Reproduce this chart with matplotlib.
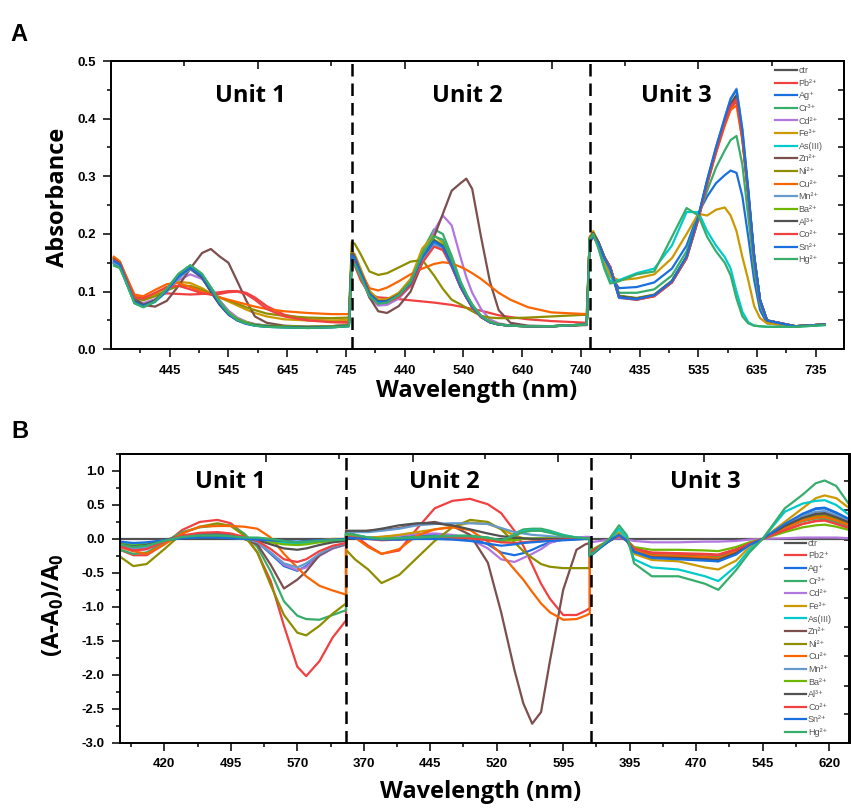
import numpy as np
import matplotlib
matplotlib.use('Agg')
import matplotlib.pyplot as plt
from matplotlib.ticker import MultipleLocator, FormatStrFormatter

# ions in legend order and Origin-like colours
ions = ['ctr', 'Pb', 'Ag', 'Cr', 'Cd', 'Fe', 'As', 'Zn', 'Ni', 'Cu', 'Mn', 'Ba', 'Al', 'Co', 'Sn', 'Hg']
colors = ['#515151', '#F14040', '#1A6FDF', '#37AD6B', '#B177DE', '#CC9900', '#00CBCC', '#7D4E4E',
          '#8E8E00', '#FB6501', '#6699CC', '#6FB802', '#515151', '#F14040', '#1A6FDF', '#37AD6B']
labels_a = ['ctr', 'Pb²⁺', 'Ag⁺', 'Cr³⁺', 'Cd²⁺', 'Fe³⁺', 'As(III)', 'Zn²⁺', 'Ni²⁺', 'Cu²⁺',
            'Mn²⁺', 'Ba²⁺', 'Al³⁺', 'Co²⁺', 'Sn²⁺', 'Hg²⁺']
labels_b = ['ctr', 'Pb2⁺', 'Ag⁺', 'Cr³⁺', 'Cd²⁺', 'Fe³⁺', 'As(III)', 'Zn²⁺', 'Ni²⁺', 'Cu²⁺',
            'Mn²⁺', 'Ba²⁺', 'Al³⁺', 'Co²⁺', 'Sn²⁺', 'Hg²⁺']

# ---- panel A : absorbance, three units (wavelength in nm) ----
wl_a1 = [350, 360, 370, 385, 400, 420, 440, 460, 480, 500, 515, 530, 545, 560, 575, 590, 610, 640, 680, 720, 750]
a1 = {
    'ctr': [.158, .150, .125, .084, .077, .085, .104, .128, .143, .125, .100, .077, .060, .050, .045, .042, .040, .039, .038, .039, .041],
    'Pb':  [.160, .152, .128, .093, .090, .095, .097, .096, .095, .096, .097, .099, .101, .101, .098, .090, .075, .060, .052, .049, .048],
    'Ag':  [.152, .146, .120, .082, .076, .083, .100, .124, .139, .124, .101, .079, .062, .051, .045, .042, .040, .039, .038, .039, .041],
    'Cr':  [.150, .145, .118, .080, .074, .084, .105, .130, .145, .130, .108, .085, .066, .054, .047, .043, .041, .040, .039, .040, .042],
    'Cd':  [.150, .144, .120, .086, .080, .087, .102, .120, .130, .122, .104, .084, .067, .055, .048, .044, .041, .040, .039, .040, .042],
    'Fe':  [.160, .152, .128, .092, .087, .095, .108, .117, .115, .106, .097, .090, .083, .076, .069, .063, .057, .052, .050, .050, .051],
    'As':  [.148, .142, .118, .080, .073, .082, .103, .128, .142, .128, .104, .080, .062, .051, .045, .041, .039, .038, .037, .038, .040],
    'Zn':  [.150, .144, .122, .090, .077, .074, .084, .110, .140, .167, .174, .161, .150, .118, .085, .057, .046, .041, .039, .040, .042],
    'Ni':  [.158, .150, .126, .090, .085, .092, .102, .110, .110, .103, .096, .090, .085, .079, .073, .068, .062, .058, .055, .054, .055],
    'Cu':  [.160, .152, .128, .095, .092, .103, .113, .115, .108, .100, .095, .090, .086, .082, .078, .074, .070, .066, .063, .061, .061],
    'Mn':  [.150, .145, .120, .081, .075, .083, .101, .124, .139, .125, .103, .080, .062, .051, .046, .042, .040, .039, .038, .039, .041],
    'Ba':  [.155, .148, .122, .083, .076, .084, .103, .127, .142, .128, .105, .082, .064, .053, .047, .043, .041, .040, .039, .040, .042],
    'Al':  [.156, .149, .123, .084, .077, .085, .104, .127, .141, .124, .100, .078, .061, .051, .045, .042, .040, .039, .038, .039, .041],
    'Co':  [.155, .148, .125, .090, .088, .098, .108, .110, .104, .097, .095, .096, .099, .100, .096, .086, .070, .057, .050, .047, .046],
    'Sn':  [.153, .147, .121, .082, .075, .083, .102, .126, .142, .127, .103, .079, .061, .050, .044, .041, .039, .038, .037, .038, .040],
    'Hg':  [.145, .141, .118, .080, .073, .083, .105, .131, .146, .131, .107, .082, .063, .051, .045, .041, .039, .038, .037, .038, .040],
}

wl_a2 = [350, 355, 365, 380, 395, 410, 430, 450, 470, 490, 505, 520, 535, 545, 555, 570, 585, 600, 620, 650, 690, 750]
a2 = {
    'ctr': [.165, .160, .135, .098, .083, .084, .095, .115, .160, .188, .178, .145, .108, .090, .073, .056, .047, .043, .041, .040, .040, .043],
    'Pb':  [.152, .145, .120, .095, .090, .089, .087, .085, .083, .081, .079, .077, .074, .072, .070, .067, .063, .059, .056, .052, .049, .046],
    'Ag':  [.160, .155, .130, .095, .081, .082, .093, .114, .158, .185, .177, .146, .110, .091, .074, .057, .047, .043, .041, .040, .040, .043],
    'Cr':  [.158, .153, .130, .094, .080, .082, .094, .118, .170, .208, .200, .162, .118, .096, .078, .058, .048, .043, .041, .040, .040, .043],
    'Cd':  [.155, .150, .128, .090, .076, .077, .088, .110, .150, .205, .232, .215, .160, .125, .098, .070, .052, .045, .041, .040, .040, .043],
    'Fe':  [.170, .165, .140, .102, .086, .087, .098, .122, .175, .198, .185, .150, .112, .092, .075, .057, .048, .044, .041, .040, .040, .043],
    'As':  [.160, .155, .131, .095, .081, .082, .093, .113, .157, .186, .178, .147, .110, .091, .074, .057, .047, .043, .041, .040, .040, .043],
    'Zn':  [.170, .160, .130, .090, .066, .063, .075, .100, .150, .195, .235, .275, .288, .296, .278, .195, .118, .068, .046, .041, .040, .042],
    'Ni':  [.186, .183, .165, .135, .129, .132, .142, .152, .155, .128, .105, .086, .078, .072, .066, .058, .055, .054, .054, .055, .057, .060],
    'Cu':  [.160, .155, .135, .106, .102, .107, .118, .130, .140, .148, .151, .149, .143, .138, .132, .122, .110, .098, .086, .073, .064, .061],
    'Mn':  [.158, .153, .129, .094, .080, .081, .092, .112, .155, .182, .175, .145, .109, .090, .073, .056, .047, .043, .041, .040, .040, .043],
    'Ba':  [.162, .157, .132, .096, .082, .083, .094, .115, .160, .190, .181, .148, .111, .092, .075, .057, .048, .043, .041, .040, .040, .043],
    'Al':  [.165, .159, .134, .097, .083, .084, .095, .116, .161, .189, .179, .146, .109, .090, .073, .056, .047, .043, .041, .040, .040, .043],
    'Co':  [.155, .150, .127, .093, .080, .081, .091, .110, .150, .178, .172, .143, .108, .090, .073, .056, .047, .043, .041, .040, .040, .043],
    'Sn':  [.163, .158, .133, .096, .082, .083, .094, .114, .159, .187, .178, .146, .110, .091, .074, .057, .047, .043, .041, .040, .040, .043],
    'Hg':  [.150, .147, .126, .092, .079, .081, .094, .117, .165, .196, .190, .156, .116, .095, .077, .058, .048, .043, .041, .040, .040, .043],
}

wl_a3 = [350, 356, 365, 375, 385, 400, 430, 460, 490, 515, 535, 550, 565, 580, 590, 600, 610, 620, 630, 640, 652, 700, 750]
a3 = {
    'ctr': [.190, .200, .185, .160, .142, .092, .088, .094, .118, .160, .228, .290, .345, .395, .425, .440, .370, .270, .160, .085, .050, .040, .043],
    'Pb':  [.185, .195, .182, .158, .143, .090, .086, .092, .116, .158, .226, .287, .342, .390, .418, .430, .365, .268, .160, .085, .050, .040, .043],
    'Ag':  [.190, .198, .182, .155, .128, .106, .108, .116, .140, .180, .236, .265, .288, .302, .310, .306, .265, .195, .120, .068, .045, .040, .043],
    'Cr':  [.195, .200, .180, .150, .130, .098, .098, .104, .128, .170, .232, .275, .315, .345, .363, .370, .320, .230, .140, .078, .048, .040, .043],
    'Cd':  [.188, .198, .184, .159, .141, .091, .087, .093, .117, .159, .227, .289, .344, .394, .424, .439, .369, .270, .160, .085, .050, .040, .043],
    'Fe':  [.195, .205, .185, .150, .126, .120, .123, .130, .158, .200, .235, .232, .242, .246, .232, .205, .160, .120, .075, .054, .045, .040, .043],
    'As':  [.190, .200, .176, .142, .118, .120, .132, .140, .180, .238, .238, .205, .180, .160, .140, .100, .065, .047, .041, .040, .039, .039, .042],
    'Zn':  [.192, .202, .186, .160, .142, .092, .088, .094, .118, .160, .229, .291, .346, .396, .426, .441, .371, .271, .161, .085, .050, .040, .043],
    'Ni':  [.190, .200, .184, .160, .141, .093, .089, .095, .119, .161, .229, .290, .344, .394, .424, .438, .369, .270, .160, .085, .050, .040, .043],
    'Cu':  [.188, .197, .182, .158, .142, .091, .087, .093, .116, .158, .225, .286, .340, .388, .415, .423, .362, .266, .158, .084, .050, .040, .043],
    'Mn':  [.186, .196, .183, .158, .140, .089, .086, .093, .117, .160, .230, .293, .350, .402, .435, .452, .382, .277, .164, .086, .050, .040, .043],
    'Ba':  [.190, .200, .185, .160, .142, .092, .088, .094, .118, .160, .228, .290, .345, .395, .425, .440, .370, .270, .160, .085, .050, .040, .043],
    'Al':  [.191, .201, .186, .160, .142, .092, .088, .094, .118, .160, .228, .290, .345, .395, .425, .440, .370, .270, .160, .085, .050, .040, .043],
    'Co':  [.187, .197, .183, .159, .143, .090, .086, .092, .116, .158, .226, .288, .343, .392, .421, .434, .367, .269, .160, .085, .050, .040, .043],
    'Sn':  [.186, .196, .183, .158, .140, .090, .087, .094, .118, .161, .231, .294, .350, .401, .434, .450, .380, .276, .163, .086, .050, .040, .043],
    'Hg':  [.190, .200, .175, .140, .114, .118, .130, .135, .195, .245, .232, .195, .170, .150, .128, .088, .057, .045, .041, .040, .039, .039, .042],
}

# ---- panel B : (A-A0)/A0 ----
wl_b1 = [370, 385, 400, 420, 440, 460, 480, 495, 510, 525, 540, 555, 570, 580, 595, 610, 625]
b1 = {
    'ctr': [0.0] * 17,
    'Pb':  [-.16, -.24, -.24, -.08, .13, .25, .28, .23, .07, -.20, -.62, -1.28, -1.88, -2.02, -1.80, -1.45, -1.20],
    'Ag':  [-.10, -.16, -.14, -.03, .04, .07, .07, .05, .01, -.05, -.22, -.40, -.47, -.40, -.24, -.14, -.08],
    'Cr':  [-.16, -.22, -.20, -.05, .10, .17, .20, .20, .08, -.12, -.48, -.92, -1.13, -1.18, -1.19, -1.12, -1.05],
    'Cd':  [-.12, -.18, -.15, -.03, .04, .06, .06, .04, .00, -.06, -.20, -.38, -.46, -.42, -.25, -.14, -.08],
    'Fe':  [-.05, -.08, -.06, -.02, .02, .03, .03, .02, .00, -.01, -.02, -.04, -.05, -.04, -.02, .00, .00],
    'As':  [-.06, -.09, -.07, -.02, .02, .04, .04, .03, .01, .00, -.03, -.06, -.07, -.06, -.04, -.02, -.01],
    'Zn':  [-.10, -.12, -.10, -.02, .05, .07, .08, .05, .00, -.08, -.38, -.73, -.60, -.48, -.24, -.13, -.08],
    'Ni':  [-.26, -.40, -.37, -.15, .08, .18, .23, .19, .05, -.20, -.68, -1.12, -1.38, -1.42, -1.28, -1.10, -.95],
    'Cu':  [-.12, -.18, -.22, -.08, .08, .18, .19, .19, .18, .15, .02, -.22, -.42, -.55, -.69, -.76, -.82],
    'Mn':  [-.09, -.14, -.12, -.03, .04, .06, .06, .04, .01, -.05, -.20, -.36, -.42, -.36, -.22, -.12, -.07],
    'Ba':  [-.07, -.10, -.08, -.02, .02, .03, .03, .02, .00, -.02, -.05, -.08, -.09, -.08, -.05, -.03, -.02],
    'Al':  [-.08, -.11, -.09, -.02, .03, .05, .05, .04, .01, -.02, -.08, -.14, -.16, -.14, -.09, -.05, -.03],
    'Co':  [-.11, -.17, -.15, -.04, .05, .09, .10, .08, .03, -.03, -.15, -.30, -.34, -.30, -.18, -.10, -.06],
    'Sn':  [-.04, -.06, -.05, -.02, .01, .02, .02, .01, .00, -.01, -.02, -.03, -.04, -.03, -.02, -.01, .00],
    'Hg':  [-.08, -.12, -.10, -.03, .03, .05, .05, .04, .02, .02, .00, -.03, -.05, -.04, -.03, -.02, -.01],
}

wl_b2 = [350, 360, 375, 390, 410, 430, 450, 470, 490, 510, 525, 540, 550, 560, 570, 580, 595, 610, 620, 625]
b2 = {
    'ctr': [0.0] * 20,
    'Pb':  [.13, .05, -.10, -.22, -.17, .15, .45, .56, .59, .51, .38, .12, -.10, -.38, -.66, -.88, -1.12, -1.12, -1.06, -1.02],
    'Ag':  [.06, .05, .02, .00, .02, .05, .06, .05, .02, -.08, -.20, -.24, -.21, -.16, -.10, -.05, -.01, .00, .00, .00],
    'Cr':  [.08, .06, .02, .00, .01, .03, .04, .05, .05, .02, -.05, .08, .14, .15, .15, .12, .06, .02, .01, .00],
    'Cd':  [.05, .04, .02, .03, .05, .07, .08, .06, .00, -.14, -.30, -.34, -.28, -.22, -.15, -.06, .00, .02, .03, .03],
    'Fe':  [.05, .04, .02, .03, .06, .10, .14, .18, .24, .22, .15, .05, .01, -.01, -.01, .00, .00, .00, .00, .00],
    'As':  [.07, .05, .02, .00, .01, .02, .03, .04, .04, .01, -.03, .06, .11, .13, .12, .10, .05, .02, .01, .00],
    'Zn':  [.08, .10, .12, .13, .16, .22, .25, .19, .06, -.35, -1.08, -1.93, -2.42, -2.72, -2.55, -1.80, -.75, -.16, -.08, -.06],
    'Ni':  [-.16, -.30, -.45, -.65, -.53, -.28, -.03, .17, .28, .25, .14, -.05, -.18, -.28, -.37, -.41, -.43, -.43, -.43, -.43],
    'Cu':  [.10, .02, -.12, -.22, -.15, .05, .14, .17, .13, -.04, -.22, -.45, -.60, -.78, -.95, -1.08, -1.19, -1.18, -1.13, -1.10],
    'Mn':  [.10, .10, .10, .12, .15, .20, .22, .23, .23, .22, .16, .10, .08, .06, .05, .04, .02, .01, .00, .00],
    'Ba':  [.04, .03, .01, .00, .01, .02, .02, .02, .01, -.01, -.03, -.02, .00, .01, .01, .01, .00, .00, .00, .00],
    'Al':  [.12, .12, .12, .15, .20, .23, .23, .20, .14, .08, .04, .02, .01, .00, .00, .00, .00, .00, .00, .00],
    'Co':  [.03, .02, .00, -.02, -.01, .01, .02, .02, .01, -.02, -.05, -.06, -.05, -.04, -.03, -.02, -.01, .00, .00, .00],
    'Sn':  [.02, .01, .00, -.01, -.01, .00, .00, -.01, -.03, -.07, -.10, -.08, -.06, -.05, -.04, -.03, -.02, -.01, .00, .00],
    'Hg':  [.08, .06, .02, .00, .01, .02, .03, .04, .04, .02, -.02, .05, .10, .12, .12, .09, .04, .02, .01, .00],
}

wl_b3 = [350, 362, 372, 383, 392, 400, 420, 450, 480, 495, 515, 530, 545, 570, 590, 605, 615, 628, 643]
b3 = {
    'ctr': [0.0] * 19,
    'Pb':  [-.20, -.10, -.02, .05, -.02, -.14, -.20, -.21, -.22, -.23, -.15, -.07, .00, .12, .22, .27, .28, .23, .16],
    'Ag':  [-.24, -.12, -.03, .06, -.03, -.18, -.25, -.27, -.30, -.32, -.22, -.08, .00, .20, .36, .44, .45, .38, .28],
    'Cr':  [-.22, -.11, -.02, .08, -.02, -.16, -.24, -.25, -.26, -.27, -.18, -.07, .00, .16, .26, .30, .30, .25, .18],
    'Cd':  [-.05, -.03, -.01, .01, -.01, -.03, -.05, -.05, -.04, -.04, -.03, -.01, .00, .01, .02, .02, .02, .02, .01],
    'Fe':  [-.25, -.12, -.02, .10, -.03, -.22, -.31, -.33, -.42, -.45, -.32, -.12, .00, .25, .45, .60, .64, .60, .45],
    'As':  [-.26, -.12, -.02, .15, .00, -.30, -.42, -.45, -.55, -.62, -.40, -.16, .00, .40, .52, .56, .57, .50, .35],
    'Zn':  [-.24, -.12, -.03, .05, -.03, -.18, -.26, -.27, -.28, -.30, -.20, -.08, .00, .18, .30, .35, .36, .30, .22],
    'Ni':  [-.22, -.11, -.02, .05, -.02, -.16, -.24, -.25, -.26, -.28, -.19, -.07, .00, .17, .28, .33, .34, .29, .21],
    'Cu':  [-.23, -.11, -.03, .05, -.02, -.17, -.25, -.26, -.27, -.29, -.19, -.08, .00, .16, .27, .31, .32, .27, .20],
    'Mn':  [-.26, -.13, -.03, .06, -.03, -.19, -.28, -.29, -.31, -.33, -.22, -.09, .00, .21, .34, .40, .41, .35, .26],
    'Ba':  [-.18, -.09, -.02, .04, -.02, -.12, -.16, -.16, -.17, -.18, -.12, -.05, .00, .10, .17, .20, .21, .18, .13],
    'Al':  [-.25, -.12, -.03, .05, -.03, -.19, -.27, -.28, -.30, -.31, -.21, -.08, .00, .19, .31, .37, .38, .32, .24],
    'Co':  [-.20, -.10, -.02, .04, -.02, -.14, -.21, -.22, -.23, -.24, -.16, -.07, .00, .13, .22, .26, .27, .22, .16],
    'Sn':  [-.26, -.13, -.03, .06, -.03, -.19, -.28, -.30, -.32, -.33, -.23, -.09, .00, .22, .37, .45, .46, .39, .29],
    'Hg':  [-.25, -.11, .00, .20, .05, -.36, -.55, -.55, -.66, -.75, -.46, -.20, .00, .45, .65, .82, .86, .78, .50],
}

# the three units sit side by side on one running x axis
off_a = [0, 405, 810]
off_b = [0, 275, 550]

plt.rcParams['font.family'] = ['Liberation Sans', 'DejaVu Sans']
plt.rcParams['axes.unicode_minus'] = False
plt.rcParams['mathtext.fontset'] = 'custom'
plt.rcParams['mathtext.rm'] = 'Open Sans:bold'

W, H = 851, 809
fig = plt.figure(figsize=(W / 100, H / 100), dpi=100)


def box(l, t, r, b):
    return [l / W, 1 - b / H, (r - l) / W, (b - t) / H]


axA = fig.add_axes(box(111, 61, 844, 349.3))
axB = fig.add_axes(box(120, 454, 849.5, 742.7))


def draw(ax, grids, units, offs):
    lines = []
    for ion, c in zip(ions, colors):
        x = np.concatenate([np.asarray(g) + o for g, o in zip(grids, offs)])
        y = np.concatenate([u[ion] for u in units])
        ln, = ax.plot(x, y, color=c, lw=1.6, solid_joinstyle='round')
        lines.append(ln)
    return lines


def unit_tick(t, offs, edges):
    for o, e in zip(offs[::-1], edges[::-1]):
        if t >= e:
            return str(int(round(t - o)))
    return str(int(round(t)))


linesA = draw(axA, [wl_a1, wl_a2, wl_a3], [a1, a2, a3], off_a)
linesB = draw(axB, [wl_b1, wl_b2, wl_b3], [b1, b2, b3], off_b)

dash = (0, (5, 2.8))
for xv in (755, 1160):
    axA.axvline(xv, color='black', lw=1.8, ls=dash, zorder=5)
for xv in (625.5, 901):
    axB.axvline(xv, color='black', lw=1.8, ls=dash, zorder=5)

# axis ranges and ticks
axA.set_xlim(345, 1593)
axA.set_ylim(0, 0.5)
ta = [445 + 100 * k for k in range(12)]
axA.set_xticks(ta, [unit_tick(t, off_a, [0, 755, 1160]) for t in ta])
axA.set_xticks([395 + 100 * k for k in range(12)], minor=True)
axA.yaxis.set_major_locator(MultipleLocator(0.1))
axA.yaxis.set_minor_locator(MultipleLocator(0.05))
axA.yaxis.set_major_formatter(FormatStrFormatter('%.1f'))

axB.set_xlim(370, 1193)
axB.set_ylim(-3.0, 1.25)
tb = [420 + 75 * k for k in range(11)]
axB.set_xticks(tb, [unit_tick(t, off_b, [0, 625.5, 901]) for t in tb])
axB.set_xticks([382.5 + 75 * k for k in range(11)], minor=True)
axB.yaxis.set_major_locator(MultipleLocator(0.5))
axB.yaxis.set_minor_locator(MultipleLocator(0.25))
axB.yaxis.set_major_formatter(FormatStrFormatter('%.1f'))

for ax in (axA, axB):
    for sp in ax.spines.values():
        sp.set_linewidth(1.4)
    ax.tick_params(which='major', direction='out', length=6, width=1.1, labelsize=9.5, pad=5)
    ax.tick_params(which='minor', direction='out', length=3, width=1.1)
    for lab in ax.get_xticklabels() + ax.get_yticklabels():
        lab.set_fontweight('bold')

# top and right axes carry their own inward ticks
topA = axA.secondary_xaxis('top')
topA.set_xticks([595, 845, 1095, 1345])
topA.set_xticks([470, 720, 970, 1220, 1470], minor=True)
rightA = axA.secondary_yaxis('right')
rightA.set_yticks(np.arange(0.05, 0.46, 0.05))
topB = axB.secondary_xaxis('top')
topB.set_xticks([535, 700, 864, 1029])
topB.set_xticks([617, 782, 946, 1111], minor=True)
rightB = axB.secondary_yaxis('right')
rightB.set_yticks([0.85, 0.42, -0.01, -0.45, -0.87, -1.30, -1.73, -2.16, -2.58])
for sec in (topA, topB):
    sec.tick_params(which='major', direction='in', length=6, width=1.1, labeltop=False)
    sec.tick_params(which='minor', direction='in', length=3.5, width=1.1)
    sec.spines['top'].set_linewidth(1.4)
for sec in (rightA, rightB):
    sec.tick_params(direction='in', length=4.5, width=1.1, labelright=False)
    sec.spines['right'].set_linewidth(1.4)

legkw = dict(frameon=False, loc='upper left', fontsize=6.5, borderpad=0, borderaxespad=0,
             handlelength=2.4, handletextpad=0.2, labelspacing=0.4, labelcolor='#555555')
axA.legend(linesA, labels_a, bbox_to_anchor=(0.906, 0.982), **legkw)
axB.legend(linesB, labels_b, bbox_to_anchor=(0.911, 0.706), **legkw)

# labels
big = dict(fontfamily='Open Sans', fontweight='bold', fontsize=17)
for x, s in ((250, 'Unit 1'), (467, 'Unit 2'), (676, 'Unit 3')):
    fig.text(x / W, 1 - 102 / H, s, ha='center', va='baseline', **big)
for x, s in ((230, 'Unit 1'), (444, 'Unit 2'), (705, 'Unit 3')):
    fig.text(x / W, 1 - 488 / H, s, ha='center', va='baseline', **big)
fig.text(477 / W, 1 - 397 / H, 'Wavelength (nm)', ha='center', va='baseline', **big)
fig.text(481 / W, 1 - 798 / H, 'Wavelength (nm)', ha='center', va='baseline', **big)
fig.text(58 / W, 1 - 197 / H, 'Absorbance', rotation=90, ha='center', va='center', **big)
fig.text(53 / W, 1 - 605 / H, r'(A-A$_\mathregular{0}$)/A$_\mathregular{0}$', rotation=90,
         ha='center', va='center', **big)
fig.text(10 / W, 1 - 41 / H, 'A', fontsize=17, fontweight='bold', va='baseline')
fig.text(11 / W, 1 - 438 / H, 'B', fontsize=17, fontweight='bold', va='baseline')

fig.savefig('out.png', dpi=100)
